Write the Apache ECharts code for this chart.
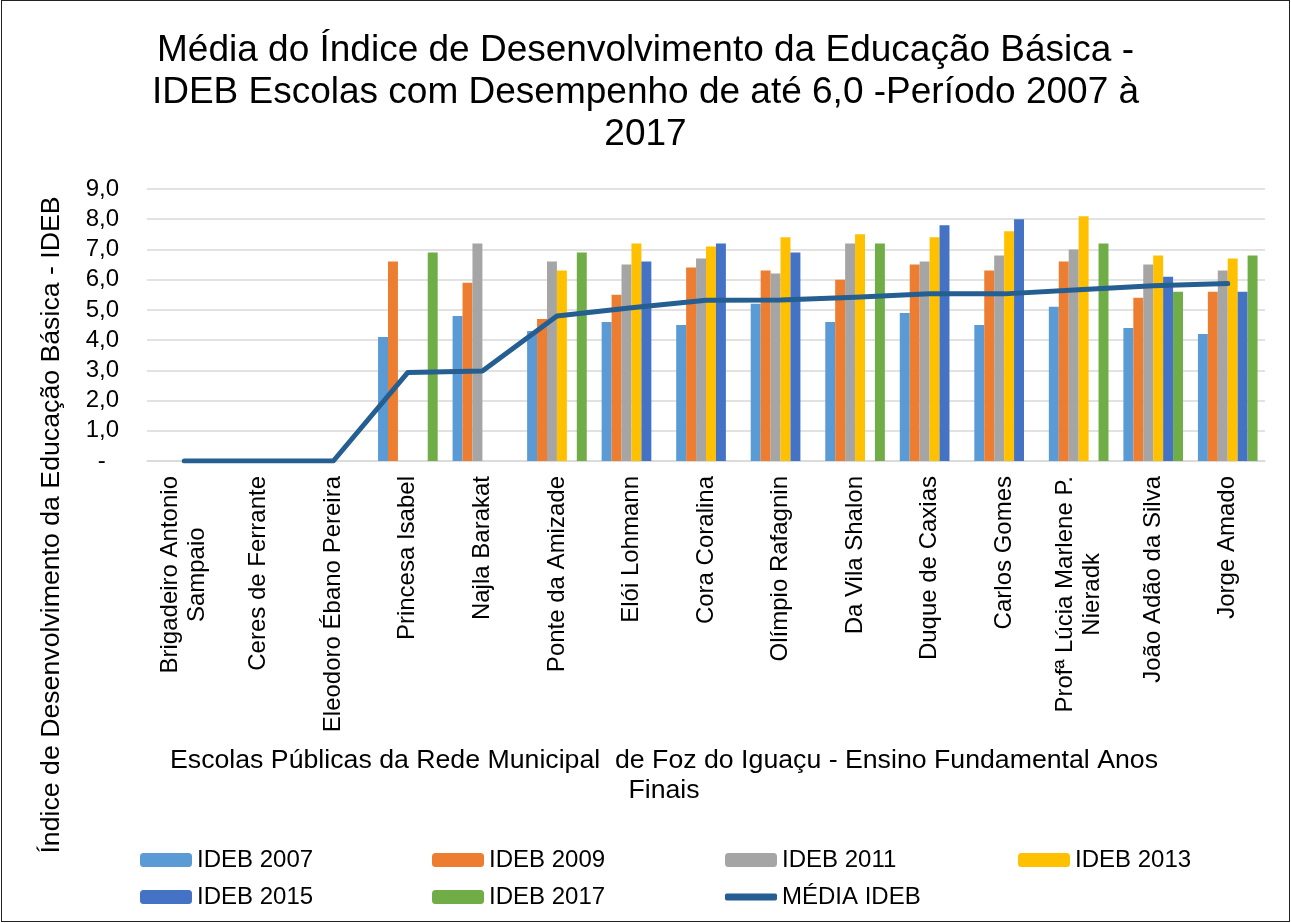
<!DOCTYPE html>
<html>
<head>
<meta charset="utf-8">
<script src="https://cdn.jsdelivr.net/npm/echarts@6/dist/echarts.min.js"></script>
<style>
  body { margin: 0; background: #fff; }
  #main { width: 1291px; height: 923px; position: relative; }
  #frame { position: absolute; left: 1px; top: 0px; width: 1287px; height: 920px; border: 1px solid #222; pointer-events: none; }
</style>
</head>
<body>
<div id="main"></div>
<div id="frame"></div>
<script>
// escolas (categorias do eixo X)
var escolas = ['Brigadeiro Antonio\nSampaio', 'Ceres de Ferrante', 'Eleodoro Ébano Pereira', 'Princesa Isabel',
  'Najla Barakat', 'Ponte da Amizade', 'Elói Lohmann', 'Cora Coralina', 'Olímpio Rafagnin', 'Da Vila Shalon',
  'Duque de Caxias', 'Carlos Gomes', 'Profª Lúcia Marlene P.\nNieradk', 'João Adão da Silva', 'Jorge Amado'];

// notas por ano (null = sem dado)
var ideb2007 = [null, null, null, 4.1, 4.8, 4.3, 4.6, 4.5, 5.2, 4.6, 4.9, 4.5, 5.1, 4.4, 4.2];
var ideb2009 = [null, null, null, 6.6, 5.9, 4.7, 5.5, 6.4, 6.3, 6.0, 6.5, 6.3, 6.6, 5.4, 5.6];
var ideb2011 = [null, null, null, null, 7.2, 6.6, 6.5, 6.7, 6.2, 7.2, 6.6, 6.8, 7.0, 6.5, 6.3];
var ideb2013 = [null, null, null, null, null, 6.3, 7.2, 7.1, 7.4, 7.5, 7.4, 7.6, 8.1, 6.8, 6.7];
var ideb2015 = [null, null, null, null, null, null, 6.6, 7.2, 6.9, null, 7.8, 8.0, null, 6.1, 5.6];
var ideb2017 = [null, null, null, 6.9, null, 6.9, null, null, null, 7.2, null, null, 7.2, 5.6, 6.8];
var mediaIdeb = [0, 0, 0, 2.93, 2.98, 4.8, 5.07, 5.32, 5.33, 5.42, 5.53, 5.53, 5.67, 5.8, 5.87];

var nomesSeries = ['IDEB 2007', 'IDEB 2009', 'IDEB 2011', 'IDEB 2013', 'IDEB 2015', 'IDEB 2017', 'MÉDIA IDEB'];
var cores = ['#5B9BD5', '#ED7D31', '#A5A5A5', '#FFC000', '#4472C4', '#70AD47', '#255E91'];

var fonte = '"Liberation Sans", Arial, sans-serif';

var myChart = echarts.init(document.getElementById('main'));

function barra(nome, dados, cor) {
    return {
        name: nome,
        type: 'bar',
        data: dados,
        barGap: '0%',
        barCategoryGap: '20%',
        itemStyle: { color: cor }
    };
}

// uma legenda por item, em colunas fixas como no Excel
var colunas = [135, 427, 720, 1013];
var legendas = nomesSeries.map(function (nome, i) {
    var linha = i < 4 ? 0 : 1;
    var ehLinha = nome === 'MÉDIA IDEB';
    return {
        left: colunas[i % 4],
        top: 843 + linha * 37,
        itemWidth: 52,
        itemHeight: ehLinha ? 7 : 14,
        itemGap: 0,
        data: [ehLinha ? { name: nome, icon: 'roundRect' } : nome],
        textStyle: { fontSize: 24, color: '#000', fontFamily: fonte }
    };
});

var option = {
    animation: false,
    textStyle: { fontFamily: fonte },
    title: {
        text: 'Média do Índice de Desenvolvimento da Educação Básica -\nIDEB Escolas com Desempenho de até 6,0 -Período 2007 à\n2017',
        left: 'center',
        top: 25,
        textStyle: { fontSize: 37, fontWeight: 'normal', color: '#000', lineHeight: 42, fontFamily: fonte }
    },
    legend: legendas,
    grid: { left: 147, right: 26, top: 189, bottom: 462 },
    xAxis: {
        type: 'category',
        data: escolas,
        axisTick: { show: false },
        axisLine: { lineStyle: { color: '#D9D9D9', width: 1.5 } },
        axisLabel: {
            interval: 0,
            rotate: 90,
            margin: 15,
            formatter: function (v) {
                return v.split('\n').map(function (s) { return '{c|' + s + '}'; }).join('\n');
            },
            rich: { c: { align: 'center', fontSize: 24, color: '#000', lineHeight: 27, fontFamily: fonte } }
        }
    },
    yAxis: {
        type: 'value',
        min: 0,
        max: 9,
        interval: 1,
        axisLine: { show: false },
        axisTick: { show: false },
        splitLine: { lineStyle: { color: '#D9D9D9', width: 1.5 } },
        axisLabel: {
            margin: 28,
            fontSize: 24,
            color: '#000',
            formatter: function (v) { return v === 0 ? '-  ' : v.toFixed(1).replace('.', ','); }
        }
    },
    graphic: [
        {
            type: 'text',
            x: 52,
            y: 525,
            rotation: Math.PI / 2,
            style: {
                text: 'Índice de Desenvolvimento da Educação Básica - IDEB',
                fontSize: 26.7, fontFamily: fonte, fill: '#000',
                textAlign: 'center', textVerticalAlign: 'middle'
            }
        },
        {
            type: 'text',
            x: 664,
            y: 776,
            style: {
                text: 'Escolas Públicas da Rede Municipal  de Foz do Iguaçu - Ensino Fundamental Anos\nFinais',
                fontSize: 26.7, fontFamily: fonte, fill: '#000', lineHeight: 30,
                textAlign: 'center', textVerticalAlign: 'middle'
            }
        }
    ],
    series: [
        barra(nomesSeries[0], ideb2007, cores[0]),
        barra(nomesSeries[1], ideb2009, cores[1]),
        barra(nomesSeries[2], ideb2011, cores[2]),
        barra(nomesSeries[3], ideb2013, cores[3]),
        barra(nomesSeries[4], ideb2015, cores[4]),
        barra(nomesSeries[5], ideb2017, cores[5]),
        {
            name: nomesSeries[6],
            type: 'line',
            data: mediaIdeb,
            symbol: 'none',
            z: 5,
            lineStyle: { color: cores[6], width: 5, cap: 'round', join: 'round' },
            itemStyle: { color: cores[6] }
        }
    ]
};

myChart.setOption(option);
</script>
</body>
</html>
